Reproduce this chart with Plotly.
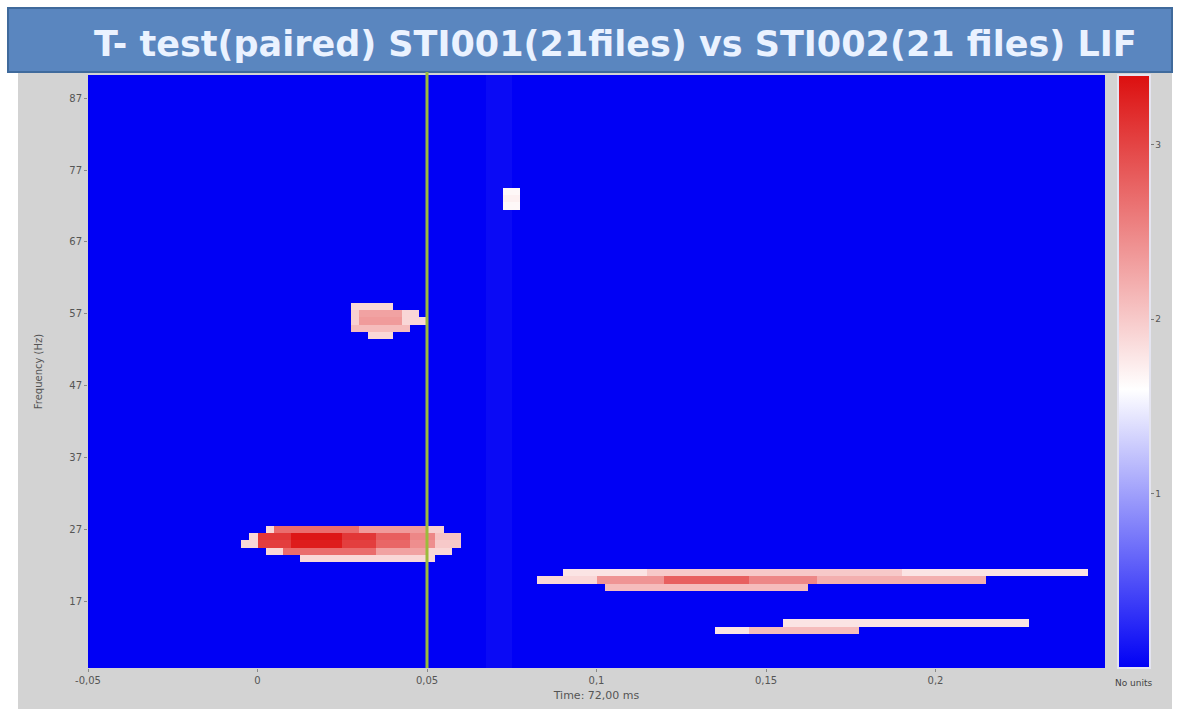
import numpy as np
import plotly.graph_objects as go

# ---- data ----
x_tick_vals = [-0.05, 0, 0.05, 0.1, 0.15, 0.2]
x_tick_text = ["-0,05", "0", "0,05", "0,1", "0,15", "0,2"]
y_tick_vals = [17, 27, 37, 47, 57, 67, 77, 87]
y_tick_text = ["17", "27", "37", "47", "57", "67", "77", "87"]
cbar_tick_vals = [1, 2, 3]
cbar_tick_text = ["1", "2", "3"]
marker_time = 0.05

# significant clusters: (frequency Hz, t_start s, t_end s, t-value)
seg_freq = [74, 73, 72,
            58, 57, 57, 57, 56, 56, 56, 55, 54,
            27, 27, 27, 27,
            26, 26, 26, 26, 26, 26, 26,
            25, 25, 25, 25, 25, 25, 25,
            24, 24, 24, 24,
            23,
            21, 21, 21, 20, 20, 20, 20, 20, 19,
            14, 13, 13]
seg_t0 = [0.0725, 0.0715, 0.0720,
          0.0282, 0.0274, 0.0300, 0.0420, 0.0274, 0.0300, 0.0420, 0.0282, 0.0326,
          0.0015, 0.0050, 0.0300, 0.0490,
          -0.0035, -0.0010, 0.0100, 0.0250, 0.0350, 0.0450, 0.0520,
          -0.0050, -0.0010, 0.0100, 0.0250, 0.0350, 0.0450, 0.0520,
          0.0030, 0.0080, 0.0350, 0.0500,
          0.0120,
          0.0903, 0.1156, 0.1890, 0.0832, 0.1010, 0.1200, 0.1450, 0.1650, 0.1035,
          0.1547, 0.1350, 0.1450]
seg_t1 = [0.0768, 0.0768, 0.0768,
          0.0397, 0.0300, 0.0420, 0.0480, 0.0300, 0.0420, 0.0488, 0.0441, 0.0406,
          0.0050, 0.0300, 0.0490, 0.0540,
          -0.0010, 0.0100, 0.0250, 0.0350, 0.0450, 0.0520, 0.0590,
          -0.0010, 0.0100, 0.0250, 0.0350, 0.0450, 0.0520, 0.0600,
          0.0080, 0.0350, 0.0500, 0.0580,
          0.0530,
          0.1156, 0.1890, 0.2444, 0.1010, 0.1200, 0.1450, 0.1650, 0.2162, 0.1618,
          0.2274, 0.1450, 0.1780]
seg_val = [1.65, 1.7, 1.65,
           1.9, 1.95, 2.3, 1.9, 1.95, 2.35, 1.9, 2.1, 1.9,
           1.9, 2.7, 2.35, 1.95,
           1.9, 3.1, 3.35, 3.1, 2.8, 2.5, 2.05,
           1.9, 3.05, 3.3, 3.05, 2.75, 2.45, 2.0,
           1.9, 2.7, 2.3, 1.9,
           1.9,
           1.8, 2.0, 1.8, 1.9, 2.4, 2.8, 2.5, 2.2, 2.1,
           1.8, 1.8, 2.1]

# faint lighter column seen in the map
band_t0, band_t1, band_val = 0.0685, 0.075, 0.06

# ---- grid ----
t_step = 0.0025
times = np.arange(-0.05 + t_step / 2, 0.25, t_step)
freqs = np.arange(8, 91)
z = np.zeros((len(freqs), len(times)))
z[:, (times >= band_t0) & (times <= band_t1)] = band_val
for f, a, b, v in zip(seg_freq, seg_t0, seg_t1, seg_val):
    r = int(f - freqs[0])
    z[r, (times >= a) & (times < b)] = v

W, H = 1179, 709
ml, mr, mt, mb = 88, 74, 75, 41
pw = W - ml - mr

fig = go.Figure()
fig.add_trace(go.Heatmap(
    x=times, y=freqs, z=z, zmin=0, zmax=3.4, zsmooth=False,
    colorscale=[[0, "rgb(0,0,245)"], [0.47, "rgb(255,255,255)"], [1, "rgb(220,15,15)"]],
    colorbar=dict(
        x=(1118 - ml) / pw, xanchor="left", xpad=0, ypad=0,
        y=0.5, len=1, lenmode="fraction", thickness=32,
        outlinewidth=2, outlinecolor="#e4e4f0",
        tickvals=cbar_tick_vals, ticktext=cbar_tick_text,
        ticks="outside", ticklen=3, tickcolor="#777",
        tickfont=dict(size=9, color="#555", family="DejaVu Sans"),
    ),
    hoverinfo="skip",
))

fig.update_layout(
    width=W, height=H,
    margin=dict(l=ml, r=mr, t=mt, b=mb, autoexpand=False),
    paper_bgcolor="white", plot_bgcolor="rgb(0,0,245)",
    showlegend=False,
    xaxis=dict(range=[-0.05, 0.25], tickvals=x_tick_vals, ticktext=x_tick_text, automargin=False,
               showgrid=False, zeroline=False, ticks="outside", ticklen=3, tickcolor="#888",
               tickfont=dict(size=10, color="#555", family="DejaVu Sans"),
               title=dict(text="Time: 72,00 ms", font=dict(size=11, color="#555", family="DejaVu Sans"), standoff=6)),
    yaxis=dict(range=[7.8, 90.2], tickvals=y_tick_vals, ticktext=y_tick_text, automargin=False,
               showgrid=False, zeroline=False, ticks="outside", ticklen=3, tickcolor="#888",
               tickfont=dict(size=10, color="#555", family="DejaVu Sans"),
               title=dict(text="Frequency (Hz)", font=dict(size=10, color="#555", family="DejaVu Sans"), standoff=24)),
)

def px_x(p):
    return (p - ml) / pw

def px_y(p):
    return (H - mb - p) / (H - mt - mb)

# grey panel behind the chart
fig.add_shape(type="rect", xref="paper", yref="paper", layer="below",
              x0=px_x(18), x1=px_x(1172), y0=px_y(709), y1=px_y(72),
              fillcolor="#d3d3d3", line=dict(width=0))
# title band
fig.add_shape(type="rect", xref="paper", yref="paper",
              x0=px_x(8), x1=px_x(1172), y0=px_y(72), y1=px_y(8),
              fillcolor="#5a86bf", line=dict(color="#3f6a9c", width=2))
fig.add_annotation(xref="paper", yref="paper", x=px_x(615), y=px_y(44),
                   text="<b>T- test(paired) STI001(21files) vs STI002(21 files) LIF</b>",
                   showarrow=False, xanchor="center", yanchor="middle",
                   font=dict(size=35, color="#eaf2ff", family="DejaVu Sans"))
# time marker
fig.add_shape(type="line", xref="x", yref="paper", x0=marker_time, x1=marker_time,
              y0=0, y1=px_y(72), line=dict(color="#9bbb3c", width=3))
# colorbar unit label
fig.add_annotation(xref="paper", yref="paper", x=px_x(1134), y=px_y(683),
                   text="No units", showarrow=False, xanchor="center", yanchor="middle",
                   font=dict(size=9, color="#444", family="DejaVu Sans"))

fig.write_html("out.html")
